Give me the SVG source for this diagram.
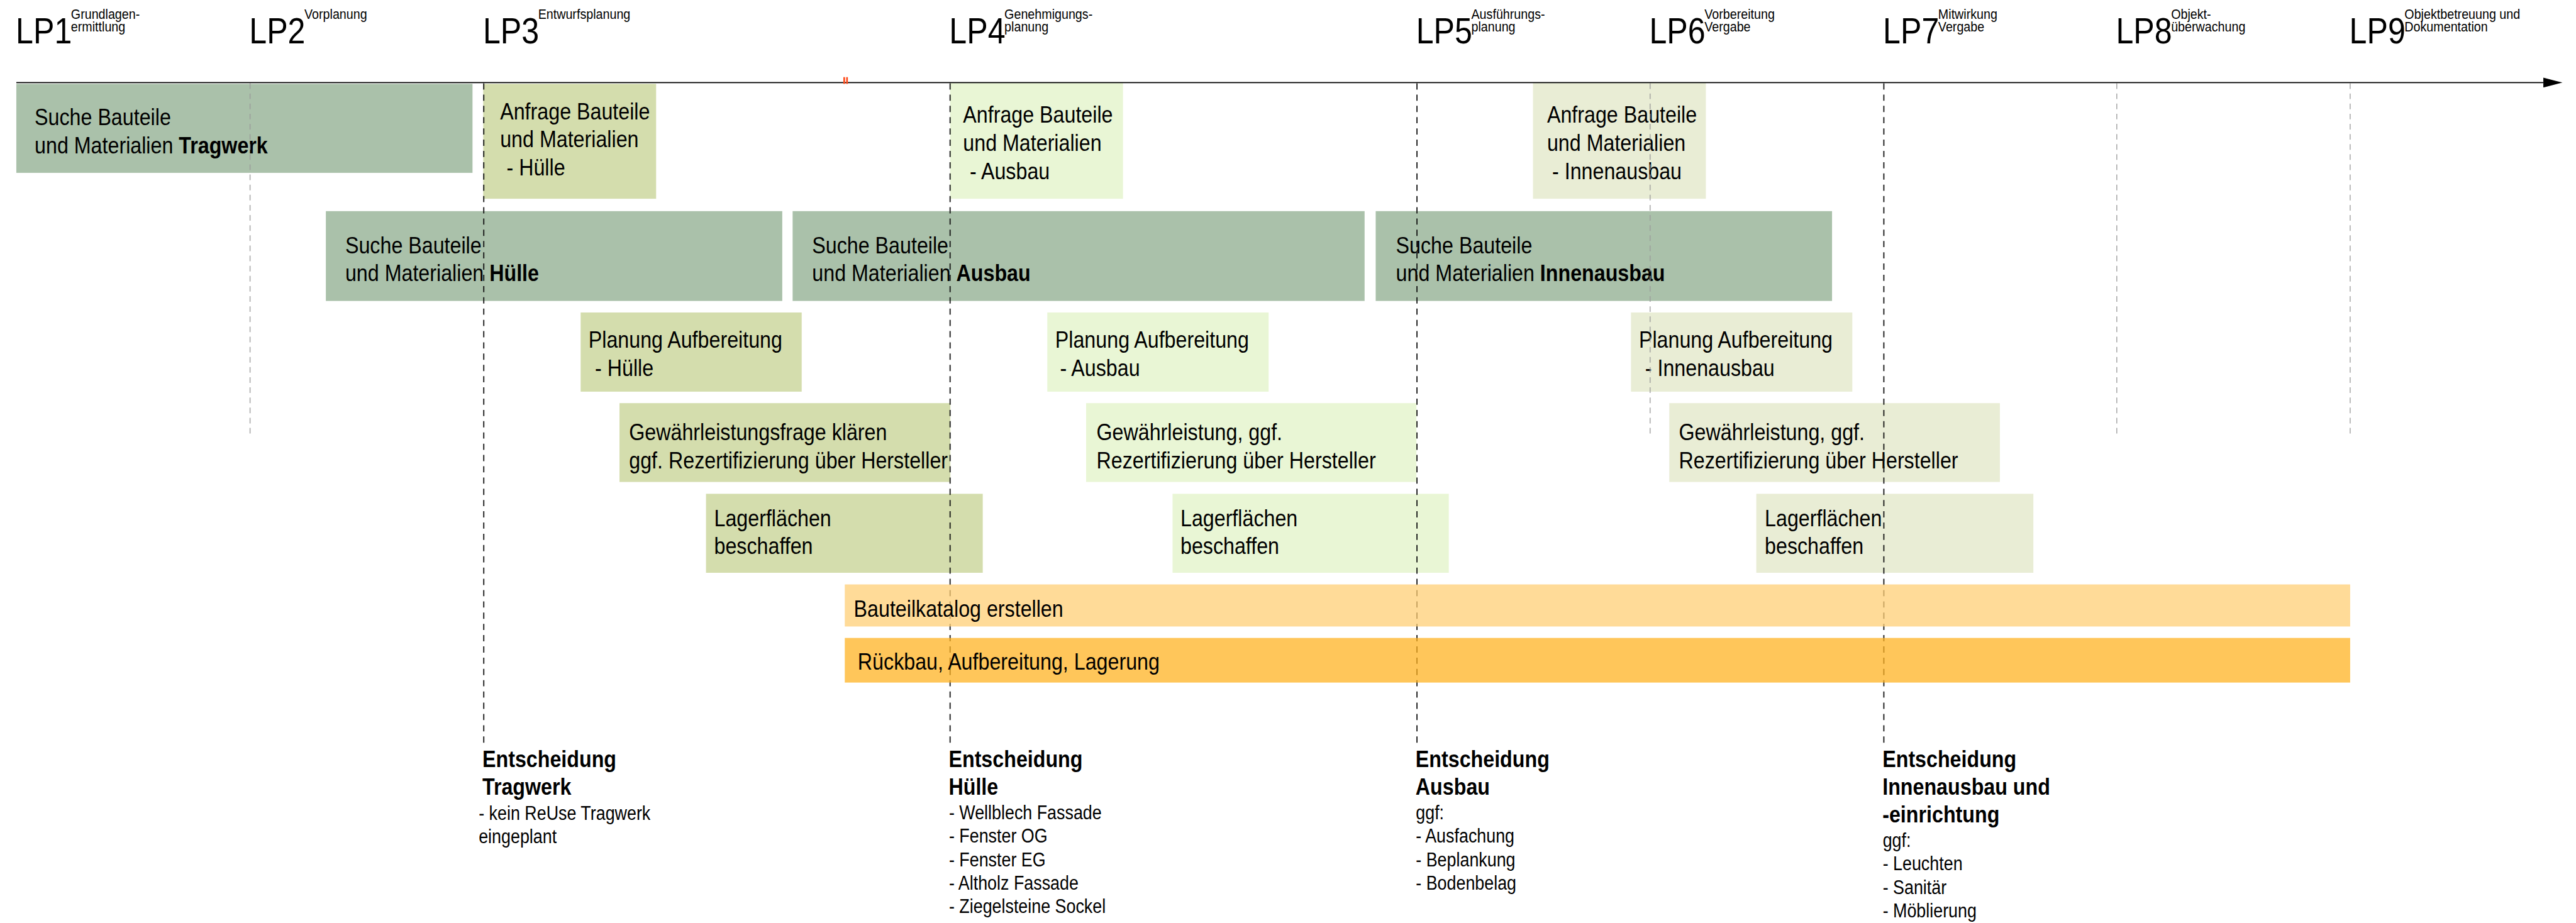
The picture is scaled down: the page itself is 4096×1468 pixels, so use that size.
<svg xmlns="http://www.w3.org/2000/svg" width="4096" height="1468" viewBox="0 0 4096 1468">
<defs>
<style>
text{font-family:'Liberation Sans',Arial,Helvetica,sans-serif;fill:#000}
.lp{font-size:56px}
.sup{font-size:22px}
.tx{font-size:36px}
.li{font-size:30px}
.b{font-weight:bold}
.suche{fill:#aac1aa}
.huelle{fill:#d4ddad}
.ausbau{fill:#e9f6d5}
.innen{fill:#e9edd5}
.grey{stroke:#9a9a9a;stroke-width:1.5;stroke-dasharray:10 8;fill:none}
.dark{stroke:#111;stroke-width:2;stroke-dasharray:11 9;fill:none}
.bar1{fill:#ffcf76;fill-opacity:.75}
.bar2{fill:#ffb323;fill-opacity:.75}
.axis{stroke:#000;stroke-width:2.2;fill:none}
.tick{stroke:#ff4a1a;stroke-width:3}
</style>
<marker id="arrow" markerUnits="userSpaceOnUse" markerWidth="34" markerHeight="18" viewBox="0 0 33 17" refX="0" refY="8.5" orient="auto">
<path d="M0,0 L33,8.5 L0,17 z" fill="#000"/>
</marker>
</defs>
<rect width="4096" height="1468" fill="#fff"/>
<g transform="scale(0.8955)">

<!-- task boxes -->
<g id="suche-tragwerk">
<rect class="suche" x="29" y="149" width="810" height="158"/>
<text class="tx" transform="matrix(1 0 0 1.14 61.5 222.7)"><tspan x="0" y="0">Suche Bauteile</tspan><tspan x="0" y="43.5">und Materialien <tspan class="b">Tragwerk</tspan></tspan></text>
</g>
<g id="anfrage-huelle">
<rect class="huelle" x="858" y="149" width="307" height="204"/>
<text class="tx" transform="matrix(1 0 0 1.14 888 211.7)"><tspan x="0" y="0">Anfrage Bauteile</tspan><tspan x="0" y="43.9">und Materialien</tspan><tspan x="11.5" y="87.8">- Hülle</tspan></text>
</g>
<g id="anfrage-ausbau">
<rect class="ausbau" x="1687" y="147.5" width="307" height="205.5"/>
<text class="tx" transform="matrix(1 0 0 1.14 1710 218.3)"><tspan x="0" y="0">Anfrage Bauteile</tspan><tspan x="0" y="43.9">und Materialien</tspan><tspan x="12" y="87.8">- Ausbau</tspan></text>
</g>
<g id="anfrage-innenausbau">
<rect class="innen" x="2722" y="147.5" width="307" height="205.5"/>
<text class="tx" transform="matrix(1 0 0 1.14 2747 218.3)"><tspan x="0" y="0">Anfrage Bauteile</tspan><tspan x="0" y="43.9">und Materialien</tspan><tspan x="9" y="87.8">- Innenausbau</tspan></text>
</g>

<g id="suche-huelle">
<rect class="suche" x="578.6" y="375" width="810.4" height="159.5"/>
<text class="tx" transform="matrix(1 0 0 1.14 613 450)"><tspan x="0" y="0">Suche Bauteile</tspan><tspan x="0" y="43">und Materialien <tspan class="b">Hülle</tspan></tspan></text>
</g>
<g id="suche-ausbau">
<rect class="suche" x="1407.4" y="375" width="1015.6" height="159.5"/>
<text class="tx" transform="matrix(1 0 0 1.14 1442 450)"><tspan x="0" y="0">Suche Bauteile</tspan><tspan x="0" y="43">und Materialien <tspan class="b">Ausbau</tspan></tspan></text>
</g>
<g id="suche-innenausbau">
<rect class="suche" x="2442.7" y="375" width="810.3" height="159.5"/>
<text class="tx" transform="matrix(1 0 0 1.14 2478.6 450)"><tspan x="0" y="0">Suche Bauteile</tspan><tspan x="0" y="43">und Materialien <tspan class="b">Innenausbau</tspan></tspan></text>
</g>

<g id="planung-huelle">
<rect class="huelle" x="1031" y="555" width="392.5" height="140.6"/>
<text class="tx" transform="matrix(1 0 0 1.14 1045 618)"><tspan x="0" y="0">Planung Aufbereitung</tspan><tspan x="11.5" y="43.9">- Hülle</tspan></text>
</g>
<g id="planung-ausbau">
<rect class="ausbau" x="1859.6" y="555" width="393" height="140.6"/>
<text class="tx" transform="matrix(1 0 0 1.14 1873.6 618)"><tspan x="0" y="0">Planung Aufbereitung</tspan><tspan x="8.5" y="43.9">- Ausbau</tspan></text>
</g>
<g id="planung-innenausbau">
<rect class="innen" x="2896" y="555" width="393" height="140.6"/>
<text class="tx" transform="matrix(1 0 0 1.14 2910 618)"><tspan x="0" y="0">Planung Aufbereitung</tspan><tspan x="11" y="43.9">- Innenausbau</tspan></text>
</g>

<g id="gewaehrleistung-huelle">
<rect class="huelle" x="1100" y="716" width="587.5" height="140"/>
<text class="tx" transform="matrix(1 0 0 1.14 1117 782)"><tspan x="0" y="0">Gewährleistungsfrage klären</tspan><tspan x="0" y="43.9">ggf. Rezertifizierung über Hersteller</tspan></text>
</g>
<g id="gewaehrleistung-ausbau">
<rect class="ausbau" x="1928.5" y="716" width="586.5" height="140"/>
<text class="tx" transform="matrix(1 0 0 1.14 1947 782)"><tspan x="0" y="0">Gewährleistung, ggf.</tspan><tspan x="0" y="43.9">Rezertifizierung über Hersteller</tspan></text>
</g>
<g id="gewaehrleistung-innenausbau">
<rect class="innen" x="2964" y="716" width="587" height="140"/>
<text class="tx" transform="matrix(1 0 0 1.14 2981 782)"><tspan x="0" y="0">Gewährleistung, ggf.</tspan><tspan x="0" y="43.9">Rezertifizierung über Hersteller</tspan></text>
</g>

<g id="lager-huelle">
<rect class="huelle" x="1253.6" y="877" width="491.4" height="140.3"/>
<text class="tx" transform="matrix(1 0 0 1.14 1268 935)"><tspan x="0" y="0">Lagerflächen</tspan><tspan x="0" y="43">beschaffen</tspan></text>
</g>
<g id="lager-ausbau">
<rect class="ausbau" x="2082" y="877" width="490.5" height="140.3"/>
<text class="tx" transform="matrix(1 0 0 1.14 2096 935)"><tspan x="0" y="0">Lagerflächen</tspan><tspan x="0" y="43">beschaffen</tspan></text>
</g>
<g id="lager-innenausbau">
<rect class="innen" x="3118.5" y="877" width="492" height="140.3"/>
<text class="tx" transform="matrix(1 0 0 1.14 3133.5 935)"><tspan x="0" y="0">Lagerflächen</tspan><tspan x="0" y="43">beschaffen</tspan></text>
</g>

<!-- phase guide lines -->
<g id="phase-lines">
<line class="grey" x1="444" y1="148" x2="444" y2="770"/>
<line class="grey" x1="2930" y1="148" x2="2930" y2="770"/>
<line class="grey" x1="3758.6" y1="148" x2="3758.6" y2="770"/>
<line class="grey" x1="4173" y1="148" x2="4173" y2="770"/>
<line class="dark" x1="859" y1="148" x2="859" y2="1322"/>
<line class="dark" x1="1687" y1="148" x2="1687" y2="1322"/>
<line class="dark" x1="2516" y1="148" x2="2516" y2="1322"/>
<line class="dark" x1="3345" y1="148" x2="3345" y2="1322"/>
</g>

<!-- continuous bars -->
<g id="bauteilkatalog">
<rect class="bar1" x="1500" y="1038" width="2673" height="74.7"/>
<text class="tx" transform="matrix(1 0 0 1.14 1516 1096)">Bauteilkatalog erstellen</text>
</g>
<g id="rueckbau">
<rect class="bar2" x="1500" y="1133" width="2673" height="79.3"/>
<text class="tx" transform="matrix(1 0 0 1.14 1523 1189.3)">Rückbau, Aufbereitung, Lagerung</text>
</g>

<!-- time axis -->
<g id="connectors">
<line class="axis" x1="29" y1="146.7" x2="4516" y2="146.7" marker-end="url(#arrow)"/>
<line class="tick" x1="1499" y1="137" x2="1499" y2="149"/>
<line class="tick" x1="1504" y1="137" x2="1504" y2="149"/>
</g>

<!-- phase labels -->
<g id="lp1"><text class="lp" transform="matrix(1 0 0 1.14 28 77.3)">LP1</text><text class="sup" transform="matrix(1 0 0 1.14 126 33.3)"><tspan x="0" y="0">Grundlagen-</tspan><tspan x="0" y="19.9">ermittlung</tspan></text></g>
<g id="lp2"><text class="lp" transform="matrix(1 0 0 1.14 442.5 77.3)">LP2</text><text class="sup" transform="matrix(1 0 0 1.14 540.5 33.3)">Vorplanung</text></g>
<g id="lp3"><text class="lp" transform="matrix(1 0 0 1.14 857.5 77.3)">LP3</text><text class="sup" transform="matrix(1 0 0 1.14 955.5 33.3)">Entwurfsplanung</text></g>
<g id="lp4"><text class="lp" transform="matrix(1 0 0 1.14 1685.5 77.3)">LP4</text><text class="sup" transform="matrix(1 0 0 1.14 1783.5 33.3)"><tspan x="0" y="0">Genehmigungs-</tspan><tspan x="0" y="19.9">planung</tspan></text></g>
<g id="lp5"><text class="lp" transform="matrix(1 0 0 1.14 2514.5 77.3)">LP5</text><text class="sup" transform="matrix(1 0 0 1.14 2612.5 33.3)"><tspan x="0" y="0">Ausführungs-</tspan><tspan x="0" y="19.9">planung</tspan></text></g>
<g id="lp6"><text class="lp" transform="matrix(1 0 0 1.14 2928.5 77.3)">LP6</text><text class="sup" transform="matrix(1 0 0 1.14 3026.5 33.3)"><tspan x="0" y="0">Vorbereitung</tspan><tspan x="0" y="19.9">Vergabe</tspan></text></g>
<g id="lp7"><text class="lp" transform="matrix(1 0 0 1.14 3343.5 77.3)">LP7</text><text class="sup" transform="matrix(1 0 0 1.14 3441.5 33.3)"><tspan x="0" y="0">Mitwirkung</tspan><tspan x="0" y="19.9">Vergabe</tspan></text></g>
<g id="lp8"><text class="lp" transform="matrix(1 0 0 1.14 3757 77.3)">LP8</text><text class="sup" transform="matrix(1 0 0 1.14 3855 33.3)"><tspan x="0" y="0">Objekt-</tspan><tspan x="0" y="19.9">überwachung</tspan></text></g>
<g id="lp9"><text class="lp" transform="matrix(1 0 0 1.14 4171.5 77.3)">LP9</text><text class="sup" transform="matrix(1 0 0 1.14 4269.5 33.3)"><tspan x="0" y="0">Objektbetreuung und</tspan><tspan x="0" y="19.9">Dokumentation</tspan></text></g>

<!-- decisions -->
<g id="entscheidung-tragwerk">
<text class="tx b" transform="matrix(1 0 0 1.14 856.5 1362.7)"><tspan x="0" y="0">Entscheidung</tspan><tspan x="0" y="43">Tragwerk</tspan></text>
<text class="li" transform="matrix(1 0 0 1.14 850 1456)"><tspan x="0" y="0">- kein ReUse Tragwerk</tspan><tspan x="0" y="36.8">eingeplant</tspan></text>
</g>
<g id="entscheidung-huelle">
<text class="tx b" transform="matrix(1 0 0 1.14 1684.5 1362.7)"><tspan x="0" y="0">Entscheidung</tspan><tspan x="0" y="43">Hülle</tspan></text>
<text class="li" transform="matrix(1 0 0 1.14 1685 1455)"><tspan x="0" y="0">- Wellblech Fassade</tspan><tspan x="0" y="36.6">- Fenster OG</tspan><tspan x="0" y="73.2">- Fenster EG</tspan><tspan x="0" y="109.8">- Altholz Fassade</tspan><tspan x="0" y="146.4">- Ziegelsteine Sockel</tspan></text>
</g>
<g id="entscheidung-ausbau">
<text class="tx b" transform="matrix(1 0 0 1.14 2513.5 1362.7)"><tspan x="0" y="0">Entscheidung</tspan><tspan x="0" y="43">Ausbau</tspan></text>
<text class="li" transform="matrix(1 0 0 1.14 2514 1455)"><tspan x="0" y="0">ggf:</tspan><tspan x="0" y="36.6">- Ausfachung</tspan><tspan x="0" y="73.2">- Beplankung</tspan><tspan x="0" y="109.8">- Bodenbelag</tspan></text>
</g>
<g id="entscheidung-innenausbau">
<text class="tx b" transform="matrix(1 0 0 1.14 3342.5 1362.7)"><tspan x="0" y="0">Entscheidung</tspan><tspan x="0" y="43">Innenausbau und</tspan><tspan x="0" y="86">-einrichtung</tspan></text>
<text class="li" transform="matrix(1 0 0 1.14 3343 1504)"><tspan x="0" y="0">ggf:</tspan><tspan x="0" y="36.6">- Leuchten</tspan><tspan x="0" y="73.2">- Sanitär</tspan><tspan x="0" y="109.8">- Möblierung</tspan></text>
</g>

</g>
</svg>
